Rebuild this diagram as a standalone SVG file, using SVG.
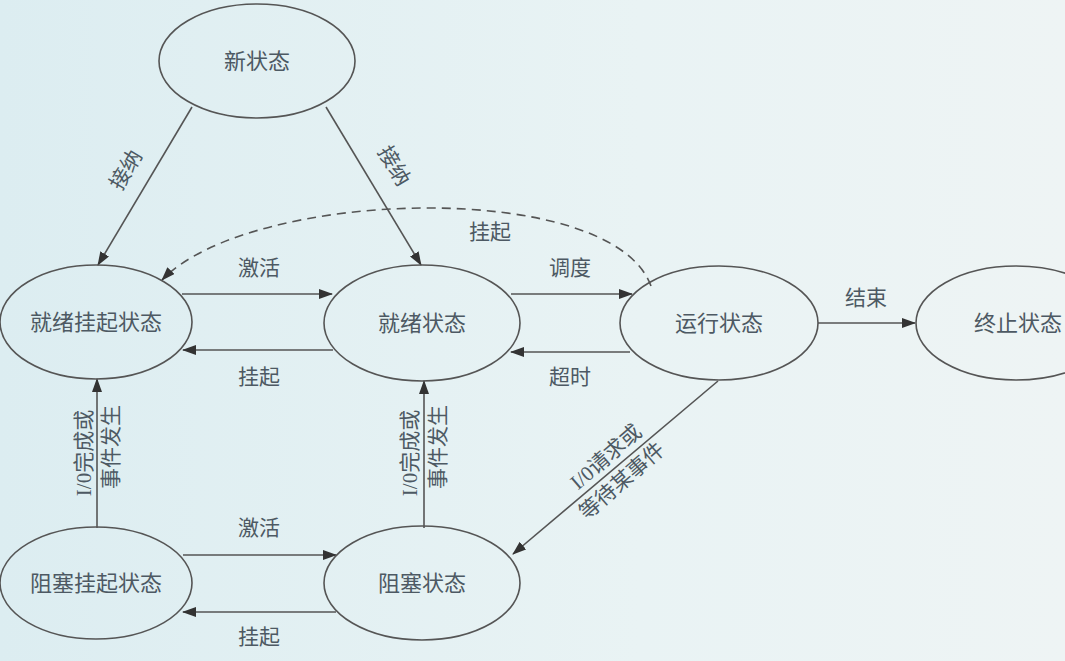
<svg xmlns="http://www.w3.org/2000/svg" width="1065" height="661" viewBox="0 0 1065 661">
<defs>
<linearGradient id="bg" x1="0" y1="0" x2="1" y2="0">
<stop offset="0" stop-color="#dcedf1"/>
<stop offset="0.6" stop-color="#e9f3f4"/>
<stop offset="1" stop-color="#eef4f4"/>
</linearGradient>
<marker id="ah" viewBox="0 0 14 10" refX="13" refY="5" markerWidth="14" markerHeight="10" markerUnits="userSpaceOnUse" orient="auto">
<path d="M0,0 L14,5 L0,10 Z" fill="#333"/>
</marker>
</defs>
<style>
.node ellipse{fill:none;stroke:#555;stroke-width:1.6}
.node text,.lbl{font-family:"Liberation Serif","Noto Sans CJK SC",serif;font-size:22px;fill:#4d5963;text-anchor:middle;dominant-baseline:central}
.lbl{font-size:21px}
.edge{fill:none;stroke:#555;stroke-width:1.6;marker-end:url(#ah)}
.dash{stroke-dasharray:9 6}
</style>
<rect width="1065" height="661" fill="url(#bg)"/>
<g id="connectors">
<line class="edge" x1="192" y1="107" x2="98" y2="265"/>
<line class="edge" x1="326" y1="107" x2="421" y2="265"/>
<path class="edge dash" d="M651,286 C612,178 250,188 162,280"/>
<line class="edge" x1="182" y1="294" x2="332" y2="294"/>
<line class="edge" x1="333" y1="350" x2="183" y2="350"/>
<line class="edge" x1="511" y1="294" x2="632" y2="294"/>
<line class="edge" x1="630" y1="352" x2="511" y2="352"/>
<line class="edge" x1="818" y1="323" x2="915" y2="323"/>
<line class="edge" x1="97" y1="528" x2="97" y2="379"/>
<line class="edge" x1="424" y1="528" x2="424" y2="381"/>
<line class="edge" x1="718" y1="381" x2="513" y2="554"/>
<line class="edge" x1="183" y1="555" x2="336" y2="555"/>
<line class="edge" x1="336" y1="612" x2="183" y2="612"/>
</g>
<g id="labels">
<text class="lbl" transform="translate(126,170) rotate(-59)">接纳</text>
<text class="lbl" transform="translate(394,166) rotate(59)">接纳</text>
<text class="lbl" x="490" y="232">挂起</text>
<text class="lbl" x="259" y="268">激活</text>
<text class="lbl" x="259" y="377">挂起</text>
<text class="lbl" x="570" y="268">调度</text>
<text class="lbl" x="570" y="377">超时</text>
<text class="lbl" x="866" y="298">结束</text>
<text class="lbl" transform="translate(84,453) rotate(-90)">I/0完成或</text>
<text class="lbl" transform="translate(111,447) rotate(-90)">事件发生</text>
<text class="lbl" transform="translate(410,453) rotate(-90)">I/0完成或</text>
<text class="lbl" transform="translate(438,447) rotate(-90)">事件发生</text>
<text class="lbl" transform="translate(606,457) rotate(-41)">I/0请求或</text>
<text class="lbl" transform="translate(622,481) rotate(-41)">等待某事件</text>
<text class="lbl" x="259" y="528">激活</text>
<text class="lbl" x="259" y="637">挂起</text>
</g>
<g id="n_new" class="node"><ellipse cx="257" cy="61" rx="98" ry="57"/><text x="257" y="61">新状态</text></g>
<g id="n_ready_susp" class="node"><ellipse cx="96" cy="322" rx="96" ry="57"/><text x="96" y="322">就绪挂起状态</text></g>
<g id="n_ready" class="node"><ellipse cx="422" cy="323" rx="98" ry="58"/><text x="422" y="323">就绪状态</text></g>
<g id="n_run" class="node"><ellipse cx="719" cy="323" rx="99" ry="57"/><text x="719" y="323">运行状态</text></g>
<g id="n_term" class="node"><ellipse cx="1016" cy="323" rx="100" ry="57"/><text x="1018" y="323">终止状态</text></g>
<g id="n_block_susp" class="node"><ellipse cx="96" cy="583" rx="96" ry="56"/><text x="96" y="583">阻塞挂起状态</text></g>
<g id="n_block" class="node"><ellipse cx="422" cy="583" rx="98" ry="57"/><text x="422" y="583">阻塞状态</text></g>
</svg>
